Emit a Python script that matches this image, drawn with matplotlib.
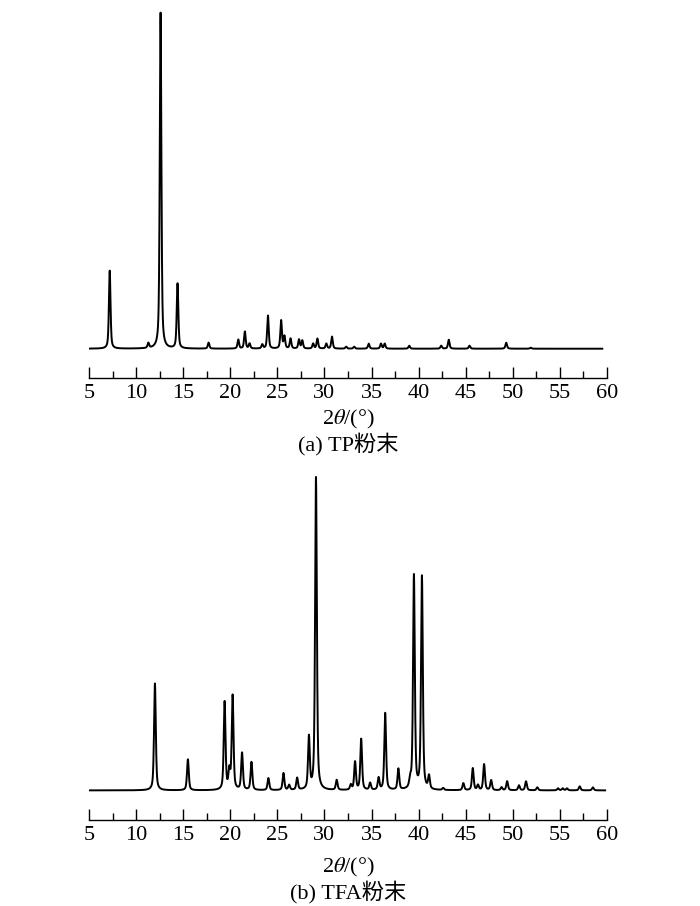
import numpy as np
import matplotlib
matplotlib.use('Agg')
import matplotlib.pyplot as plt

plt.rcParams['font.family'] = ['Liberation Serif', 'Noto Sans CJK SC']
plt.rcParams['mathtext.fontset'] = 'stix'

# peak positions (2theta, deg) and heights
tp_pos = [7.2, 11.3, 12.6, 14.4, 17.7, 20.85, 21.55, 22.05, 23.4, 24.0,
          25.4, 25.75, 26.4, 27.3, 27.65, 28.8, 29.25, 30.2, 30.8, 32.3,
          33.15, 34.7, 36.0, 36.4, 39.0, 42.4, 43.2, 45.4, 49.3, 51.9]
tp_int = [78, 5, 336, 65, 6, 9, 17, 5, 4, 33,
          28, 12, 10, 9, 8, 5, 10, 5, 12, 2,
          2, 5, 5, 5, 3, 3, 9, 3, 6, 1]

tfa_pos = [12.0, 15.5, 19.4, 19.9, 20.25, 21.25, 22.25, 24.05, 25.65, 26.25,
           27.1, 28.35, 29.1, 31.3, 32.8, 33.25, 33.9, 34.85, 35.75, 36.45,
           37.85, 39.1, 39.5, 40.35, 41.1, 42.6, 44.75, 45.75, 46.3, 46.95,
           47.7, 48.8, 49.4, 50.65, 51.4, 52.6, 54.8, 55.3, 55.75, 57.1, 58.5]
tfa_int = [107, 31, 88, 18, 94, 37, 28, 12, 17, 5,
           12, 52, 313, 10, 5, 28, 51, 7, 12, 77,
           21, 8, 214, 213, 13, 2, 7, 22, 5, 26,
           10, 3, 9, 5, 9, 3, 2, 2, 2, 4, 3]

ticks = [5, 10, 15, 20, 25, 30, 35, 40, 45, 50, 55, 60]


def perfil(x, pos, inten, fwhm, eta=0.55):
    # soma de picos pseudo-Voigt
    y = np.zeros_like(x)
    for p, h in zip(pos, inten):
        d = (x - p) / (fwhm / 2)
        y += h * (eta / (1 + d ** 2) + (1 - eta) * np.exp(-np.log(2) * d ** 2))
    return y


x_tp = np.linspace(5, 59.5, 5500)
x_tfa = np.linspace(5, 59.8, 5500)
y_tp = perfil(x_tp, tp_pos, tp_int, 0.2)
y_tfa = perfil(x_tfa, tfa_pos, tfa_int, 0.22)

fig = plt.figure(figsize=(7, 9.06), dpi=100)
W, H = 700, 906
left = 89 / W
width = (607 - 89) / W


def eixo(top_px, spine_px, base_px, x, y):
    ax = fig.add_axes([left, 1 - spine_px / H, width, (spine_px - top_px) / H])
    ax.plot(x, y, color='black', lw=1.4)
    gap = spine_px - base_px
    ax.set_ylim(-gap, spine_px - top_px - gap)
    ax.set_xlim(5, 60)
    for s in ['left', 'right', 'top']:
        ax.spines[s].set_visible(False)
    ax.spines['bottom'].set_linewidth(1.0)
    ax.set_yticks([])
    ax.set_xticks(ticks)
    ax.set_xticks(np.arange(7.5, 60, 5), minor=True)
    ax.tick_params(axis='x', which='major', direction='in', length=8, width=1.0,
                   labelsize=16, pad=4)
    ax.tick_params(axis='x', which='minor', direction='in', length=4.8, width=1.0)
    return ax


ax1 = eixo(5, 378, 348.7, x_tp, y_tp)
ax2 = eixo(465, 820, 790.4, x_tfa, y_tfa)

cx = (89 + 607) / 2 / W
fig.text(cx, 1 - 419 / H, r'2$\theta$/(°)', ha='center', va='center', fontsize=16)
fig.text(cx, 1 - 444 / H, '(a) TP粉末', ha='center', va='center', fontsize=16)
fig.text(cx, 1 - 867 / H, r'2$\theta$/(°)', ha='center', va='center', fontsize=16)
fig.text(cx, 1 - 892 / H, '(b) TFA粉末', ha='center', va='center', fontsize=16)

fig.savefig('out.png', dpi=100)
